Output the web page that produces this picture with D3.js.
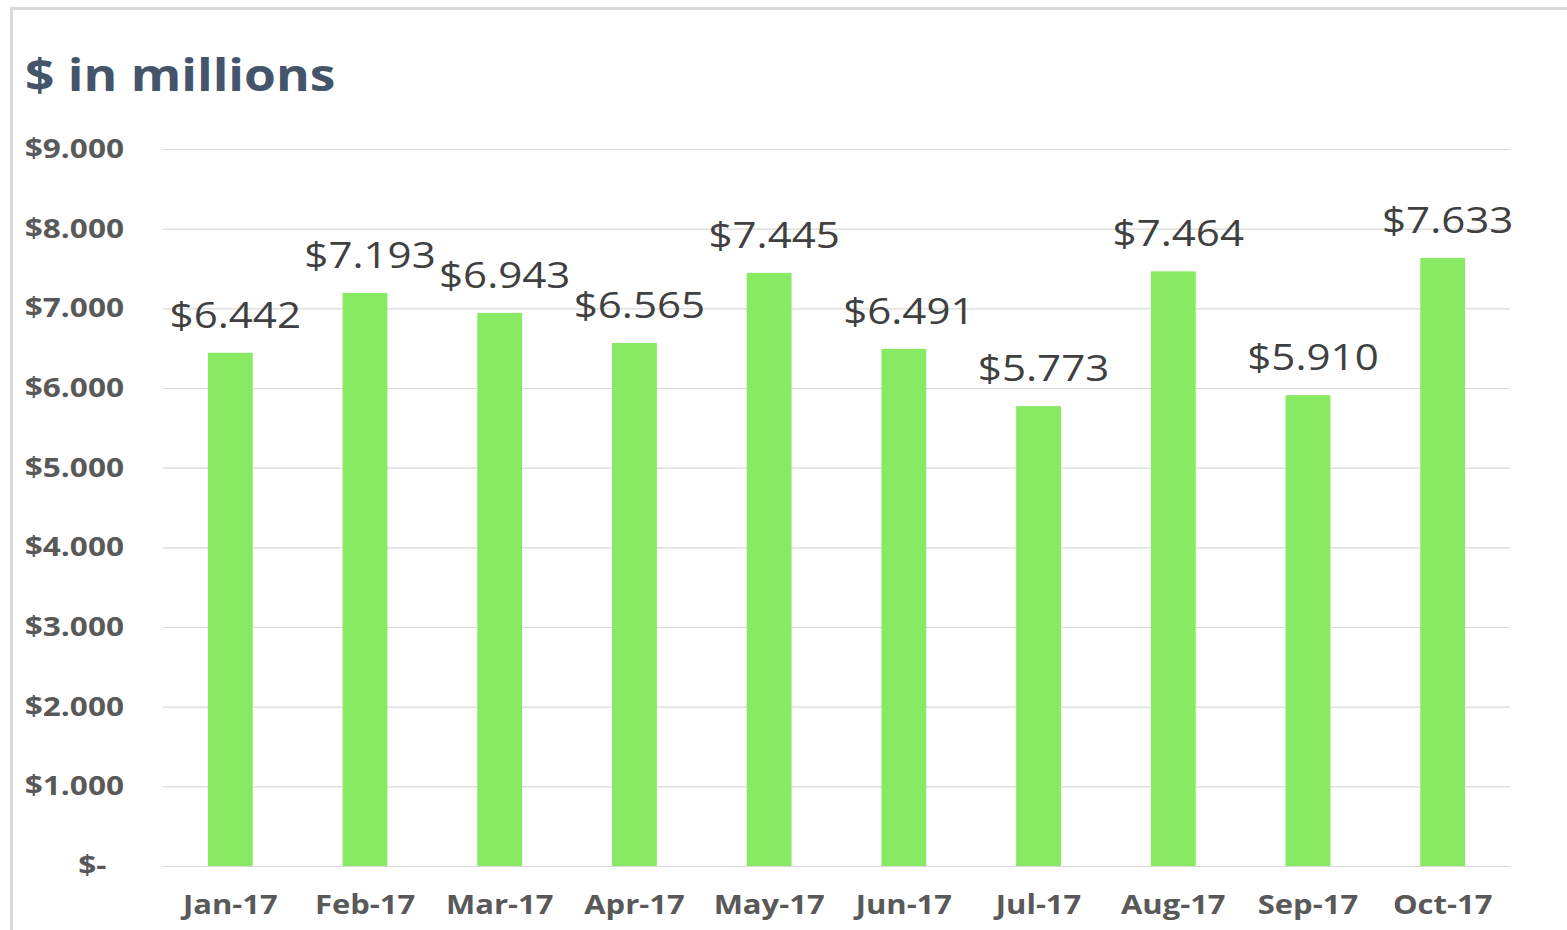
<!DOCTYPE html>
<html>
<head>
<meta charset="utf-8">
<script src="https://cdn.jsdelivr.net/npm/d3@7"></script>
<style>
	body { margin: 0; background: #fff; }
	svg { display: block; font-family: "Open Sans", sans-serif; }
</style>
</head>
<body>
<div id="chart"></div>
<script>
'use strict';

var months = ["Jan-17", "Feb-17", "Mar-17", "Apr-17", "May-17", "Jun-17", "Jul-17", "Aug-17", "Sep-17", "Oct-17"];
var values = [6.442, 7.193, 6.943, 6.565, 7.445, 6.491, 5.773, 7.464, 5.910, 7.633];
var yTicks = [0, 1, 2, 3, 4, 5, 6, 7, 8, 9];
var title = "$ in millions";

var width = 1567;
var height = 930;
var plot = { left: 163, right: 1510, top: 149, bottom: 866 };

// the source picture is stretched sideways, so text is widened to match
var stretch = "scale(1.17,1)";

var svg = d3.select("#chart").append("svg")
	.attr("width", width)
	.attr("height", height);

// chart frame (right and bottom edges run off the picture)
svg.append("rect")
	.attr("x", 11.5)
	.attr("y", 8.5)
	.attr("width", width + 20)
	.attr("height", height + 20)
	.attr("fill", "#fff")
	.attr("stroke", "#d9d9d9")
	.attr("stroke-width", 3);

svg.append("g")
	.attr("transform", "translate(25,91)")
	.append("text")
	.attr("transform", stretch)
	.attr("fill", "#44546a")
	.attr("font-size", 44)
	.attr("font-weight", 700)
	.text(title);

var x = d3.scaleBand()
	.domain(months)
	.range([plot.left, plot.right])
	.paddingInner(0.667)
	.paddingOuter(0.333);

var xCat = d3.scaleBand()
	.domain(months)
	.range([plot.left, plot.right]);

var y = d3.scaleLinear()
	.domain([0, 9])
	.range([plot.bottom, plot.top]);

// gridlines
var grid = svg.append("g")
	.attr("transform", "translate(" + plot.left + ",0)")
	.call(d3.axisLeft(y).tickValues(yTicks).tickSize(-(plot.right - plot.left)).tickFormat(""));
grid.select(".domain").remove();
grid.selectAll("line").attr("stroke", "#d9d9d9").attr("stroke-width", 1.2);

// y axis labels
var yAxis = svg.append("g")
	.attr("transform", "translate(124,0)")
	.call(d3.axisLeft(y).tickValues(yTicks).tickSize(0).tickPadding(0)
		.tickFormat(function (d) {
			return d === 0 ? "$-" : "$" + d.toFixed(3);
		}));
yAxis.select(".domain").remove();
yAxis.selectAll("text")
	.attr("transform", stretch)
	.attr("fill", "#595959")
	.attr("font-size", 27)
	.attr("font-weight", 700)
	.attr("font-family", "Open Sans, sans-serif")
	.attr("dx", function (d) { return d === 0 ? -15 : 0; });

// x axis labels
var xAxis = svg.append("g")
	.attr("transform", "translate(0," + plot.bottom + ")")
	.call(d3.axisBottom(xCat).tickSize(0).tickPadding(0));
xAxis.select(".domain").remove();
xAxis.selectAll("text")
	.attr("transform", stretch)
	.attr("fill", "#595959")
	.attr("font-size", 26.5)
	.attr("font-weight", 700)
	.attr("font-family", "Open Sans, sans-serif")
	.attr("dy", 0)
	.attr("y", 48);

// bars
svg.append("g").selectAll("rect")
	.data(values)
	.enter()
	.append("rect")
	.attr("x", function (d, i) { return x(months[i]); })
	.attr("y", function (d) { return y(d); })
	.attr("width", x.bandwidth())
	.attr("height", function (d) { return y(0) - y(d); })
	.attr("fill", "#88ea62");

// data labels (sit a little right of the bar centre, as in the source)
svg.append("g").selectAll("g")
	.data(values)
	.enter()
	.append("g")
	.attr("transform", function (d, i) {
		return "translate(" + (x(months[i]) + x.bandwidth() / 2 + 5) + "," + (y(d) - 25) + ")";
	})
	.append("text")
	.attr("transform", stretch)
	.attr("text-anchor", "middle")
	.attr("fill", "#404040")
	.attr("font-size", 36)
	.text(function (d) { return "$" + d.toFixed(3); });
</script>
</body>
</html>
